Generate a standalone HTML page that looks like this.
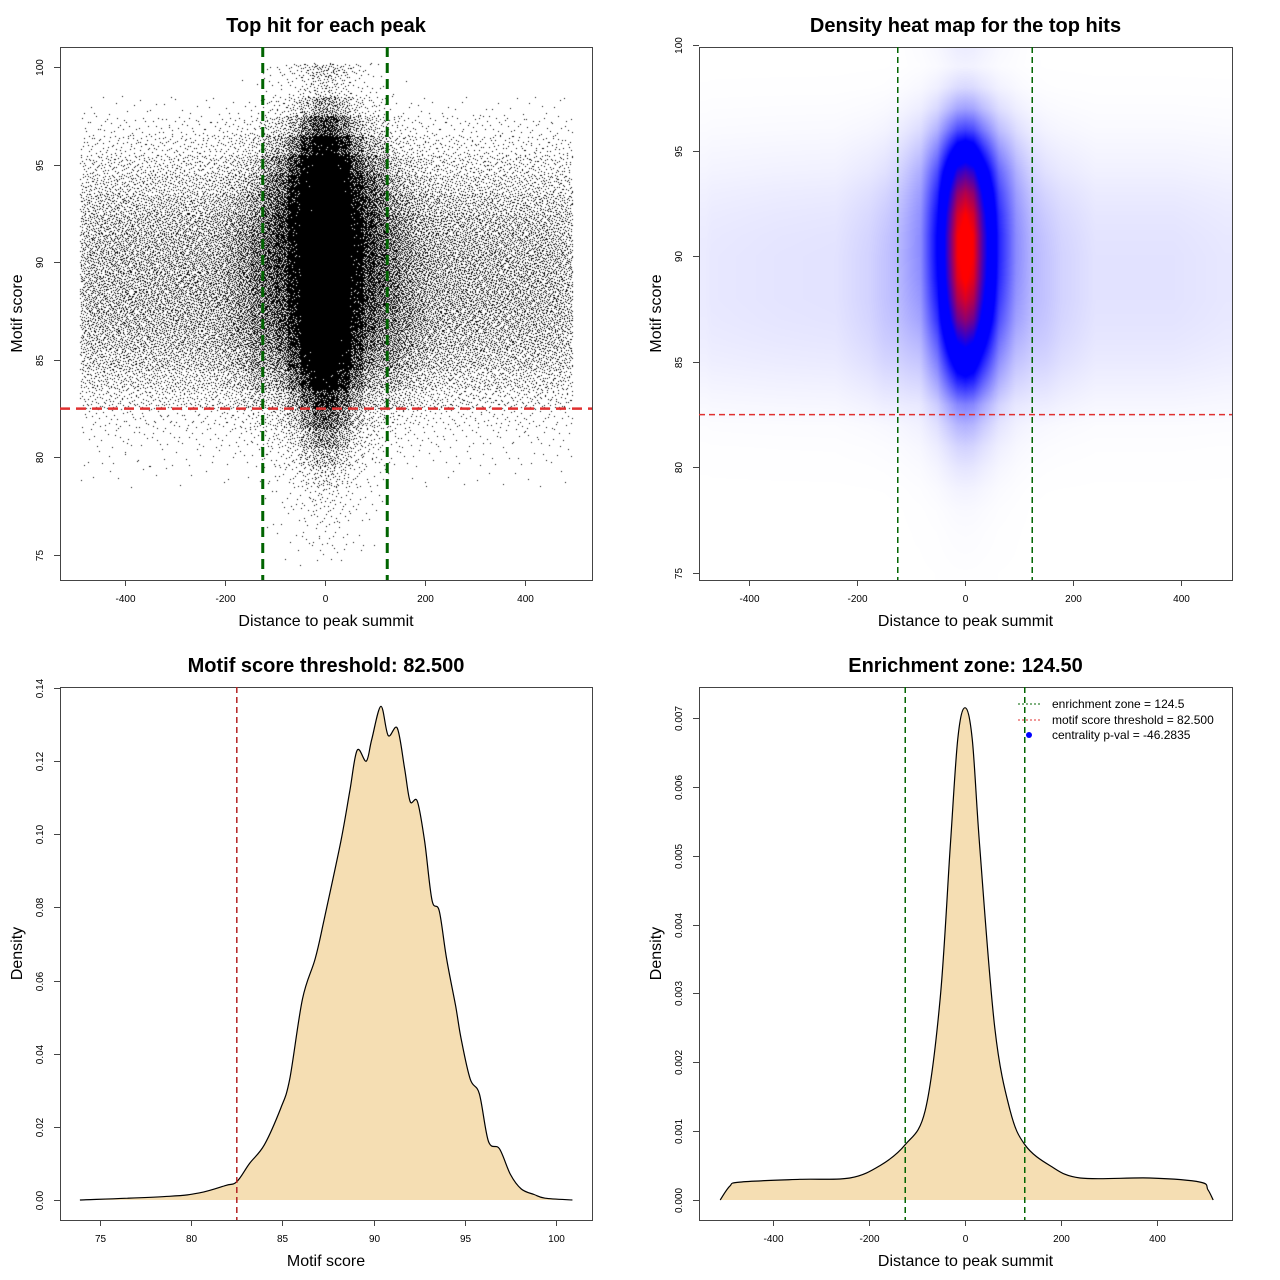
<!DOCTYPE html>
<html><head><meta charset="utf-8"><style>
body{margin:0;background:#fff;width:1280px;height:1280px;overflow:hidden;position:relative;font-family:"Liberation Sans",sans-serif}
canvas{position:absolute}
svg{position:absolute;left:0;top:0}
</style></head><body>
<canvas id="scatter" style="left:60px;top:47px" width="532" height="533"></canvas>
<canvas id="heat" style="left:699px;top:47px" width="533" height="533"></canvas>
<svg id="svg" width="1280" height="1280"></svg>
<script>
// ---- data ----
const xBinCenters = [-487.5,-462.5,-437.5,-412.5,-387.5,-362.5,-337.5,-312.5,-287.5,-262.5,-237.5,-212.5,-187.5,-162.5,-137.5,-112.5,-87.5,-62.5,-37.5,-12.5,12.5,37.5,62.5,87.5,112.5,137.5,162.5,187.5,212.5,237.5,262.5,287.5,312.5,337.5,362.5,387.5,412.5,437.5,462.5,487.5];
const xWeights = [0.00024,0.00028,0.00029,0.0003,0.0003,0.0003,0.00031,0.00031,0.00032,0.00032,0.00033,0.00036,0.00042,0.00052,0.00068,0.0009,0.0012,0.0021,0.0043,0.0068,0.0068,0.0043,0.0021,0.0012,0.0009,0.00068,0.00052,0.00042,0.00036,0.00033,0.00032,0.00032,0.00031,0.00031,0.0003,0.0003,0.0003,0.00029,0.00028,0.00024];
const scoreBins = [75,76,77,78,79,80,81,82,83,84,85,86,87,88,89,90,91,92,93,94,95,96,97,98,99,100];
const yFlank = [0,0,0,0,0.01,0.03,0.06,0.12,0.3,0.5,0.7,0.85,0.95,1,1,1,0.95,0.85,0.7,0.5,0.35,0.2,0.1,0.03,0.005,0];
const yCenter = [0.002,0.004,0.006,0.01,0.02,0.04,0.07,0.12,0.2,0.35,0.5,0.65,0.8,0.9,0.97,1,1,0.95,0.85,0.7,0.5,0.3,0.15,0.06,0.02,0.03];
const scoreGrid = [73.9,78.8,80.5,81.9,82.5,83.2,84.0,84.9,85.4,86.1,86.8,87.3,88.2,88.7,89.1,89.6,89.9,90.4,90.8,91.3,91.7,92.0,92.4,92.8,93.2,93.6,94.0,94.5,94.8,95.3,95.8,96.3,96.9,97.5,98.1,98.8,99.4,100.9];
const scoreDensity = [0,0.001,0.002,0.004,0.005,0.01,0.015,0.025,0.033,0.055,0.066,0.077,0.098,0.112,0.123,0.12,0.126,0.135,0.127,0.129,0.118,0.109,0.109,0.098,0.082,0.079,0.066,0.053,0.044,0.033,0.029,0.016,0.014,0.007,0.003,0.0015,0.0005,0];
const distGrid = [-510,-490,-469,-344,-240,-177,-125,-83,-52,-31,-15,0,15,31,62,94,125,177,240,385,490,506,517];
const distDensity = [0,0.0002,0.00026,0.0003,0.00032,0.0005,0.0008,0.0013,0.0029,0.0051,0.0067,0.00715,0.0067,0.0051,0.0025,0.0013,0.0008,0.0005,0.00032,0.00032,0.00026,0.00015,0];
const enrichZone = 124.5, threshold = 82.5;
const ticksDist = [-400,-200,0,200,400];
const ticksScore = [75,80,85,90,95,100];
const ticksD3 = [0,0.02,0.04,0.06,0.08,0.10,0.12,0.14];
const tickLbl3 = ["0.00","0.02","0.04","0.06","0.08","0.10","0.12","0.14"];
const ticksD4 = [0,0.001,0.002,0.003,0.004,0.005,0.006,0.007];
const tickLbl4 = ["0.000","0.001","0.002","0.003","0.004","0.005","0.006","0.007"];

// ---- scales ----
const lin=(d0,d1,r0,r1)=>v=>r0+(v-d0)*(r1-r0)/(d1-d0);
const P1={x:lin(-400,400,125,525),y:lin(75,100,555,67),box:[60,47,592,580]};
const P2={x:lin(-400,400,749,1181),y:lin(75,100,573,45),box:[699,47,1232,580]};
const P3={x:lin(75,100,100,556),y:lin(0,0.14,1200,688),box:[60,687,592,1220]};
const P4={x:lin(-400,400,773,1157),y:lin(0,0.007,1200,718),box:[699,687,1232,1220]};

const svg=document.getElementById('svg');
const NS='http://www.w3.org/2000/svg';
function mk(tag,attrs,name,parent){const e=document.createElementNS(NS,tag);for(const k in attrs)e.setAttribute(k,attrs[k]);(parent||svg).appendChild(e);return e;}
function txt(s,x,y,size,name,opt){opt=opt||{};const t=mk('text',{x:x,y:y,'font-size':size,'text-anchor':'middle','font-family':'Liberation Sans, sans-serif','font-weight':opt.bold?'bold':'normal',fill:'#000'},name);if(opt.rot)t.setAttribute('transform',`rotate(-90 ${x} ${y})`);t.textContent=s;return t;}

function axes(P,xt,xl,yt,yl,title,xlab,ylab,pre){
  const [x0,y0,x1,y1]=P.box;
  mk('rect',{x:x0+.5,y:y0+.5,width:x1-x0,height:y1-y0,fill:'none',stroke:'#444','stroke-width':1},pre+'-plot-frame');
  xt.forEach((v,i)=>{const x=Math.round(P.x(v))+.5;mk('line',{x1:x,x2:x,y1:y1,y2:y1+6,stroke:'#444'},pre+'-x-tick');txt(xl[i],x,y1+22,10,pre+'-x-tick-label');});
  yt.forEach((v,i)=>{const y=Math.round(P.y(v))+.5;mk('line',{x1:x0-6,x2:x0,y1:y,y2:y,stroke:'#444'},pre+'-y-tick');txt(yl[i],x0-17,y,10,pre+'-y-tick-label',{rot:1});});
  txt(title,(x0+x1)/2,y0-15,20,pre+'-title',{bold:1});
  txt(xlab,(x0+x1)/2,y1+46,16,pre+'-x-axis-title');
  txt(ylab,x0-38,(y0+y1)/2,16,pre+'-y-axis-title',{rot:1});
}
const xs=ticksDist.map(String), ss=ticksScore.map(String);

function prof(i){const c=Math.abs(xBinCenters[i]);return c<125?yCenter:yFlank;}
function halton(i,b){let f=1,r=0;while(i>0){f/=b;r+=f*(i%b);i=Math.floor(i/b);}return r;}
function interp(xa,ya,v){if(v<=xa[0])return ya[0];for(let i=1;i<xa.length;i++)if(v<=xa[i]){const a=(v-xa[i-1])/(xa[i]-xa[i-1]);return ya[i-1]*(1-a)+ya[i]*a;}return ya[ya.length-1];}
function profAt(sc,c){
  const fj=Math.max(0,Math.min(25,sc-75)),j0=Math.min(24,Math.floor(fj)),b=fj-j0;
  const f=yFlank[j0]*(1-b)+yFlank[j0+1]*b, ce=yCenter[j0]*(1-b)+yCenter[j0+1]*b;return f*(1-c)+ce*c;}

// Panel 1 scatter
(function(){
  const cv=document.getElementById('scatter'),g=cv.getContext('2d');g.fillStyle='#000';
  const N=90000;let tot=0;
  for(let i=0;i<xWeights.length;i++){const p=prof(i);for(let j=0;j<scoreBins.length;j++)tot+=xWeights[i]*p[j];}
  let k=1;
  for(let i=0;i<xWeights.length;i++){const p=prof(i);for(let j=0;j<scoreBins.length;j++){
    const n=Math.round(N*xWeights[i]*p[j]/tot);
    for(let m=0;m<n;m++,k++){
      const xv=xBinCenters[i]-12.5+25*halton(k,2);
      const yv=scoreBins[j]-0.5+halton(k,3);
      if(xv<-490||xv>495||yv>100.2)continue;
      g.fillRect(Math.round(P1.x(xv)-60),Math.round(P1.y(yv)-47),1,1);
    }}}
})();
axes(P1,ticksDist,xs,ticksScore,ss,'Top hit for each peak','Distance to peak summit','Motif score','p1');
[-enrichZone,enrichZone].forEach(v=>mk('line',{x1:P1.x(v),x2:P1.x(v),y1:47,y2:580,stroke:'#006400','stroke-width':3,'stroke-dasharray':'10,6'},'p1-enrichment-line'));
mk('line',{x1:60,x2:592,y1:P1.y(threshold),y2:P1.y(threshold),stroke:'#e03030','stroke-width':2.5,'stroke-dasharray':'10,6'},'p1-threshold-line');

// Panel 2 heatmap
(function(){
  const cv=document.getElementById('heat'),g=cv.getContext('2d');
  const W=533,H=533,img=g.createImageData(W,H);
  const ix=lin(P2.x(-400),P2.x(400),-400,400), iy=lin(P2.y(75),P2.y(100),75,100);
  const mx=0.00715;
  for(let py=0;py<H;py++){const sv=iy(py+47);
    for(let px=0;px<W;px++){let dv=ix(px+699);dv=Math.max(-480,Math.min(480,dv));
      const c=Math.max(0,Math.min(1,(150-Math.abs(dv))/60));
      const d=interp(distGrid,distDensity,dv)*profAt(sv,c);
      const t=d/mx;let r,gg,bb;
      const T=0.4;
      if(t<T){const u=t/T;r=255*(1-u);gg=255*(1-u);bb=255;}else if(t<0.6){r=0;gg=0;bb=255;}else{const u=Math.min(1,(t-0.6)/0.35);r=255*u;gg=0;bb=255*(1-u);}
      const o=(py*W+px)*4;img.data[o]=r;img.data[o+1]=gg;img.data[o+2]=bb;img.data[o+3]=255;}}
  g.putImageData(img,0,0);
})();
axes(P2,ticksDist,xs,ticksScore,ss,'Density heat map for the top hits','Distance to peak summit','Motif score','p2');
[-enrichZone,enrichZone].forEach(v=>mk('line',{x1:P2.x(v),x2:P2.x(v),y1:47,y2:580,stroke:'#006400','stroke-width':1.5,'stroke-dasharray':'6,4'},'p2-enrichment-line'));
mk('line',{x1:699,x2:1232,y1:P2.y(threshold),y2:P2.y(threshold),stroke:'#e03030','stroke-width':1.5,'stroke-dasharray':'6,4'},'p2-threshold-line');

function curve(P,xsArr,ysArr,name){
  const pts=xsArr.map((v,i)=>[P.x(v),P.y(ysArr[i])]);
  let d='M'+pts[0][0].toFixed(1)+','+pts[0][1].toFixed(1);
  for(let i=0;i<pts.length-1;i++){
    const p0=pts[Math.max(0,i-1)],p1=pts[i],p2=pts[i+1],p3=pts[Math.min(pts.length-1,i+2)];
    const c1=[p1[0]+(p2[0]-p0[0])/6,p1[1]+(p2[1]-p0[1])/6],c2=[p2[0]-(p3[0]-p1[0])/6,p2[1]-(p3[1]-p1[1])/6];
    d+=` C${c1[0].toFixed(1)},${c1[1].toFixed(1)} ${c2[0].toFixed(1)},${c2[1].toFixed(1)} ${p2[0].toFixed(1)},${p2[1].toFixed(1)}`;
  }
  mk('path',{d:d+'Z',fill:'#F5DEB3',stroke:'none'},name+'-fill');
  mk('path',{d:d,fill:'none',stroke:'#000','stroke-width':1.2,'stroke-linejoin':'round'},name);
}
axes(P3,ticksScore,ss,ticksD3,tickLbl3,'Motif score threshold: 82.500','Motif score','Density','p3');
curve(P3,scoreGrid,scoreDensity,'p3-score-density');
mk('line',{x1:P3.x(threshold),x2:P3.x(threshold),y1:687,y2:1220,stroke:'#b22222','stroke-width':1.5,'stroke-dasharray':'6,4'},'p3-threshold-line');

axes(P4,ticksDist,xs,ticksD4,tickLbl4,'Enrichment zone: 124.50','Distance to peak summit','Density','p4');
curve(P4,distGrid,distDensity,'p4-distance-density');
[-enrichZone,enrichZone].forEach(v=>mk('line',{x1:P4.x(v),x2:P4.x(v),y1:687,y2:1220,stroke:'#006400','stroke-width':1.5,'stroke-dasharray':'6,4'},'p4-enrichment-line'));
const lg=mk('g',{},'p4-legend');
mk('line',{x1:1018,x2:1042,y1:704,y2:704,stroke:'#006400','stroke-dasharray':'2,2'},'legend-enrichment-swatch',lg);
mk('line',{x1:1018,x2:1042,y1:720,y2:720,stroke:'#e03030','stroke-dasharray':'2,2'},'legend-threshold-swatch',lg);
mk('circle',{cx:1029,cy:735,r:3,fill:'#0000ff'},'legend-pval-swatch',lg);
[['enrichment zone = 124.5',708],['motif score threshold = 82.500',724],['centrality p-val = -46.2835',739]].forEach(a=>{const t=txt(a[0],1052,a[1],12,'legend-entry');t.setAttribute('text-anchor','start');});
</script>
</body></html>
